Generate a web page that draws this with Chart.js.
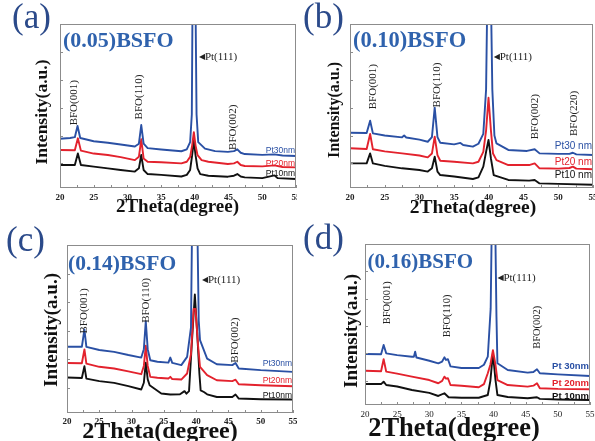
<!DOCTYPE html>
<html>
<head>
<meta charset="utf-8">
<script src="https://cdn.jsdelivr.net/npm/chart.js@4"></script>
<style>
  body { margin: 0; background: #fff; }
  .panel { position: absolute; }
</style>
</head>
<body>
<canvas id="pa" class="panel" width="297" height="220" style="left:0;top:0"></canvas>
<canvas id="pb" class="panel" width="298" height="220" style="left:297px;top:0"></canvas>
<canvas id="pc" class="panel" width="297" height="221" style="left:0;top:220px"></canvas>
<canvas id="pd" class="panel" width="298" height="221" style="left:297px;top:220px"></canvas>
<script>
// eixos comuns
const xMin = 20, xMax = 55, xStep = 5;
const xMinorTicks = [20, 22.5, 25, 27.5, 30, 32.5, 35, 37.5, 40, 42.5, 45, 47.5, 50, 52.5, 55];
const yTicks = [15, 32, 49, 66, 83];

// (a) 0.05 BSFO  -- [2theta, intensidade relativa]
const a30 = [[20,30],[21.5,30.5],[22.2,31],[22.6,37.8],[23.0,30.5],[25,28.5],[27.1,27.6],[29,26.5],[31.1,25.3],[31.7,27],[32.05,38.4],[32.4,27],[33,24.3],[35,23.5],[38,22.4],[38.8,23.5],[39.3,28],[39.55,45],[39.68,130],[40.06,130],[40.25,45],[40.5,28],[41.5,24],[43,22.5],[44.9,22],[45.8,22.5],[46.3,23.6],[46.8,21.5],[47.4,20.7],[50,20.2],[51.8,20.5],[53,19.8],[55,19.5]];
const a20 = [[20,23.2],[22.2,23],[22.65,30.3],[23.1,22.8],[25,21],[27.1,20.1],[29,18.8],[31.1,17],[31.7,19],[32.05,29.7],[32.4,18],[33,16],[35,15.7],[38,15],[38.8,16],[39.3,19],[39.6,26],[39.85,34],[40.1,26],[40.4,20],[41,17],[42,16],[44.9,14.6],[45.8,15],[46.3,16],[46.8,14],[47.4,13.4],[50,13.2],[51.8,13.8],[53,12.8],[55,12.6]];
const a10 = [[20,14],[22.2,14],[22.65,21.1],[23.1,14],[25,13],[27.1,12],[29,11],[31.1,10],[31.7,12],[32.05,20.1],[32.4,11],[33,8.5],[35,8],[38,7],[38.8,8],[39.3,11],[39.6,20],[39.85,29],[40.1,20],[40.4,12],[40.8,8.5],[42,7.5],[44.9,6.9],[45.8,7.5],[46.3,8.5],[46.8,7],[47.4,6.5],[50,6],[51.8,7.7],[52.3,6],[55,5.5]];

// (b) 0.10 BSFO
const b30 = [[20,33.7],[22.4,33.5],[22.9,41],[23.3,33.3],[25,32],[27.5,30.9],[27.8,32],[28.1,30.8],[30,29.5],[31.2,28.2],[31.8,31],[32.2,49],[32.6,31],[33,27.6],[35,26.6],[35.9,27.5],[36.3,26.2],[37.7,25.2],[38.5,27],[39.2,33],[39.6,60],[39.82,130],[40.25,130],[40.5,60],[40.8,32],[41.1,27.2],[42.8,23.2],[45.5,22.6],[46.6,23.6],[47.3,21.1],[50,20.8],[51.6,20.8],[52.1,21.5],[52.6,20.5],[55,20.1]];
const b20 = [[20,24.2],[22.4,23.8],[22.9,32.9],[23.3,23.6],[25,22.3],[27.5,21.1],[30,19.8],[31.2,18.7],[31.8,21],[32.2,31.3],[32.6,20],[33,16.6],[35,16],[37.7,15],[38.5,16],[39.2,22],[39.6,35],[39.95,55],[40.3,35],[40.6,21],[41.1,17],[42.8,14],[45.8,14],[46.6,15],[47.3,12],[50,11.8],[51.6,12.2],[52.1,13],[52.6,11.8],[55,11.4]];
const b10 = [[20,15],[22.4,15],[22.9,21.1],[23.3,15],[25,13.5],[27.5,12],[30,11],[31.2,10],[31.8,12],[32.2,19.1],[32.6,10],[33,7.9],[35,7],[37.7,5.5],[38.5,6.5],[39.2,13],[39.6,22],[39.95,29.3],[40.3,18],[40.7,7.9],[42.8,4.9],[45.8,4.5],[46.6,4.9],[47.3,2.8],[50,2.5],[55,2]];

// (c) 0.14 BSFO
const c30 = [[20,39.4],[22.3,39.4],[22.7,49.7],[23,39.4],[25,37.5],[27.3,36.4],[29.5,34.5],[31.5,33],[31.9,38],[32.2,54.6],[32.5,38],[32.9,31.4],[34,30.5],[35.7,30],[36,33],[36.3,29.8],[37.7,28.5],[38.6,33.4],[39.2,51],[39.42,130],[40.12,130],[40.4,55],[40.6,43.4],[41.7,32.4],[43.2,29],[45.6,28.5],[46.1,29.8],[46.6,26.5],[50,25.5],[55,24.5]];
const c20 = [[20,29.8],[22.3,29.6],[22.7,37.8],[23,29.4],[25,27.5],[27.3,26.5],[29.5,24.8],[31.5,23.1],[31.9,28],[32.2,40],[32.5,28],[32.9,21.5],[34,21],[35.7,20.5],[36,21.5],[36.3,20.2],[37.7,19.9],[38.6,23.5],[39.2,35],[39.6,62],[39.9,62],[40.3,40],[40.6,27.4],[41.7,22.5],[43.2,19.5],[45.6,19],[46.1,19.8],[46.6,17.1],[50,16.5],[55,15.9]];
const c10 = [[20,21.1],[22.3,20.8],[22.7,27.8],[23,20.5],[25,19],[27.3,17.9],[29.5,16],[31.5,14],[31.9,18],[32.2,30],[32.5,20],[32.8,16.5],[34.6,11.6],[36,11],[37.5,11.2],[38.2,13],[38.5,11.5],[38.9,13],[39.3,39.4],[39.8,70.5],[40.2,45],[40.5,23.7],[40.7,13.5],[41.2,12.5],[41.7,11.1],[43.2,9.5],[45.6,9.5],[46.1,11],[46.6,8.6],[50,8.2],[55,8]];

// (d) 0.16 BSFO
const d30 = [[20,31.7],[22.5,31.5],[22.9,37.3],[23.3,32.1],[25,31],[27.3,30],[27.6,30],[27.8,33.1],[28,29.5],[30,27.5],[31.4,25.9],[32,27],[32.35,29.6],[32.6,28],[32.9,28.4],[33.3,24],[35,23],[37.7,23],[38.5,25],[39.1,30],[39.55,60],[39.78,130],[40.2,130],[40.45,55],[40.6,25.9],[42.2,21.7],[45.3,20.1],[46.2,20.5],[46.75,22.2],[47.2,19.7],[50,19],[55,18]];
const d20 = [[20,21.3],[22.5,21],[22.9,28.4],[23.3,20.7],[25,19.5],[27.3,17.6],[30,15.5],[31.4,13.5],[32,15],[32.35,17.6],[32.6,16.4],[32.9,16.6],[33.3,12.4],[35,12],[37.7,11],[38.5,13],[39.1,19.7],[39.5,25],[39.9,34],[40.3,25],[40.6,15.5],[42.2,12.4],[45.3,11.4],[46.2,12],[46.75,13.5],[47.2,10.4],[50,10],[55,9.8]];
const d10 = [[20,13],[22.5,13],[22.9,14.5],[23.3,12.4],[25,11.5],[27.3,9.3],[30,7.5],[31.4,5.6],[32.35,7.3],[33,4.8],[35,4.5],[37.7,4.5],[39.1,6.2],[39.5,15],[39.9,32.1],[40.3,15.5],[40.6,6.2],[42.2,5],[45.3,4.2],[46.75,4.8],[47.2,3.8],[50,3.4],[55,3.1]];

const SERIF = '"Liberation Serif", "Times New Roman", serif';
const SANS = '"Liberation Sans", Arial, sans-serif';
const AZUL = '#2a50a4', VERMELHO = '#e3222d', PRETO = '#111111';

// desenha moldura, ticks internos, títulos dos eixos e anotações
const extras = {
  id: 'extras',
  afterDraw(chart, args, o) {
    const { ctx, chartArea: a, scales: { x, y } } = chart;
    ctx.save();
    ctx.strokeStyle = '#8c8c8c';
    ctx.lineWidth = 1;
    ctx.strokeRect(a.left + 0.5, a.top + 0.5, a.width - 1, a.height - 1);
    ctx.beginPath();
    xMinorTicks.forEach(v => {
      const px = Math.round(x.getPixelForValue(v)) + 0.5;
      ctx.moveTo(px, a.bottom); ctx.lineTo(px, a.bottom - 3);
    });
    yTicks.forEach(v => {
      const py = Math.round(y.getPixelForValue(v)) + 0.5;
      ctx.moveTo(a.left, py); ctx.lineTo(a.left + 3, py);
    });
    ctx.stroke();

    // títulos dos eixos
    ctx.fillStyle = '#111';
    ctx.textAlign = 'center';
    ctx.textBaseline = 'middle';
    ctx.font = 'bold ' + o.xt[2] + 'px ' + SERIF;
    ctx.fillText('2Theta(degree)', o.xt[0], o.xt[1]);
    ctx.save();
    ctx.translate(o.yt[0], o.yt[1]);
    ctx.rotate(-Math.PI / 2);
    ctx.font = 'bold ' + o.yt[2] + 'px ' + SERIF;
    ctx.fillText('Intensity(a.u.)', 0, 0);
    ctx.restore();

    // letra do painel
    ctx.fillStyle = '#2b4a8a';
    ctx.font = '35px ' + SERIF;
    ctx.textAlign = 'left';
    ctx.fillText(o.letra, o.letraX, o.letraY);

    // nome da amostra
    ctx.fillStyle = '#2f62ad';
    ctx.font = 'bold ' + o.nomeSize + 'px ' + SERIF;
    ctx.textBaseline = 'alphabetic';
    ctx.fillText(o.nome, o.nomeX, o.nomeY);

    // picos BFO (texto vertical)
    ctx.fillStyle = '#222';
    ctx.font = o.picoSize + 'px ' + SERIF;
    ctx.textAlign = 'center';
    ctx.textBaseline = 'middle';
    o.picos.forEach(p => {
      ctx.save();
      ctx.translate(x.getPixelForValue(p[1]), y.getPixelForValue(p[2]));
      ctx.rotate(-Math.PI / 2);
      ctx.fillText(p[0], 0, 0);
      ctx.restore();
    });

    // Pt(111)
    ctx.textAlign = 'left';
    const px = x.getPixelForValue(o.pt[0]), py = y.getPixelForValue(o.pt[1]);
    ctx.font = '8px "DejaVu Sans"';
    ctx.fillText('◀', px, py);
    ctx.font = '11px ' + SERIF;
    ctx.fillText('Pt(111)', px + 6, py);

    // rótulos das séries
    ctx.textAlign = 'right';
    ctx.font = o.serieFont + ' ' + SANS;
    o.series.forEach((s, i) => {
      ctx.fillStyle = [AZUL, VERMELHO, PRETO][i];
      ctx.fillText(s[0], a.right - 1, y.getPixelForValue(s[1]));
    });
    ctx.restore();
  }
};

function criarPainel(id, dados, cfg) {
  const ctx = document.getElementById(id).getContext('2d');
  const cores = [AZUL, VERMELHO, PRETO];
  return new Chart(ctx, {
    type: 'line',
    data: {
      datasets: dados.map((d, i) => ({
        data: d.map(p => ({ x: p[0], y: p[1] })),
        borderColor: cores[i],
        borderWidth: 1.9,
        pointRadius: 0,
        tension: 0,
        borderJoinStyle: 'round'
      }))
    },
    options: {
      responsive: false,
      animation: false,
      devicePixelRatio: 1,
      layout: { autoPadding: false, padding: { left: 0, top: cfg.top, right: cfg.right, bottom: 0 } },
      plugins: { legend: { display: false }, tooltip: { enabled: false }, extras: cfg.extras },
      scales: {
        x: {
          type: 'linear', min: xMin, max: xMax,
          ticks: {
            stepSize: xStep, padding: cfg.tickPad, color: '#222', maxRotation: 0,
            font: { family: SERIF, size: 9, weight: cfg.tickBold ? 'bold' : 'normal' }
          },
          grid: { display: false, drawTicks: false },
          border: { display: false },
          // tamanho fixo e sem folga extra para o último rótulo
          afterFit: s => { s.height = cfg.xH; s.paddingLeft = 0; s.paddingRight = 0; }
        },
        y: {
          min: 0, max: 100,
          ticks: { display: false },
          grid: { display: false, drawTicks: false },
          border: { display: false },
          afterFit: s => { s.width = cfg.yW; s.paddingTop = 0; s.paddingBottom = 0; }
        }
      }
    },
    plugins: [extras]
  });
}

criarPainel('pa', [a30, a20, a10], {
  top: 24, right: 1, yW: 60, xH: 32, tickPad: 4, tickBold: true,
  extras: {
    xt: [177.5, 207.5, 19], yt: [42.5, 112, 17.5],
    letra: '(a)', letraX: 12, letraY: 19,
    nome: '(0.05)BSFO', nomeSize: 22, nomeX: 63, nomeY: 46.5,
    picoSize: 11,
    picos: [['BFO(001)', 22.1, 52], ['BFO(110)', 31.8, 55.5], ['BFO(002)', 45.6, 37]],
    pt: [40.6, 80],
    serieFont: '8.5px', series: [['Pt30nm', 23], ['Pt20nm', 15], ['Pt10nm', 8.5]]
  }
});

criarPainel('pb', [b30, b20, b10], {
  top: 24, right: 2, yW: 53, xH: 32, tickPad: 4, tickBold: true,
  extras: {
    xt: [176, 208, 19.5], yt: [38.3, 110, 16],
    letra: '(b)', letraX: 6, letraY: 19,
    nome: '(0.10)BSFO', nomeSize: 22.5, nomeX: 56, nomeY: 46.5,
    picoSize: 11,
    picos: [['BFO(001)', 23.3, 61.8], ['BFO(110)', 32.5, 62.8], ['BFO(002)', 46.6, 43.5], ['BFO(220)', 52.3, 45.5]],
    pt: [40.7, 80],
    serieFont: '10px', series: [['Pt30 nm', 25.6], ['Pt20 nm', 15.4], ['Pt10 nm', 7.9]]
  }
});

criarPainel('pc', [c30, c20, c10], {
  top: 25, right: 4, yW: 67, xH: 28, tickPad: 3.5, tickBold: true,
  extras: {
    xt: [160, 211.5, 24], yt: [51.7, 110, 19],
    letra: '(c)', letraX: 6, letraY: 22,
    nome: '(0.14)BSFO', nomeSize: 21.5, nomeX: 68, nomeY: 50,
    picoSize: 11,
    picos: [['BFO(001)', 22.6, 60.8], ['BFO(110)', 32.2, 67], ['BFO(002)', 46.1, 43.4]],
    pt: [40.9, 79],
    serieFont: '8.5px', series: [['Pt30nm', 29.4], ['Pt20nm', 19.5], ['Pt10nm', 10.6]]
  }
});

criarPainel('pd', [d30, d20, d10], {
  top: 24, right: 5, yW: 68, xH: 36, tickPad: 4, tickBold: false,
  extras: {
    xt: [157, 209, 26.5], yt: [55, 111, 19],
    letra: '(d)', letraX: 6, letraY: 20,
    nome: '(0.16)BSFO', nomeSize: 21, nomeX: 70.5, nomeY: 48.3,
    picoSize: 10.5,
    picos: [['BFO(001)', 23.5, 63.5], ['BFO(110)', 32.8, 55.3], ['BFO(002)', 46.8, 48.3]],
    pt: [40.6, 78.7],
    serieFont: 'bold 9.5px', series: [['Pt 30nm', 23.8], ['Pt 20nm', 13.5], ['Pt 10nm', 5.2]]
  }
});
</script>
</body>
</html>
